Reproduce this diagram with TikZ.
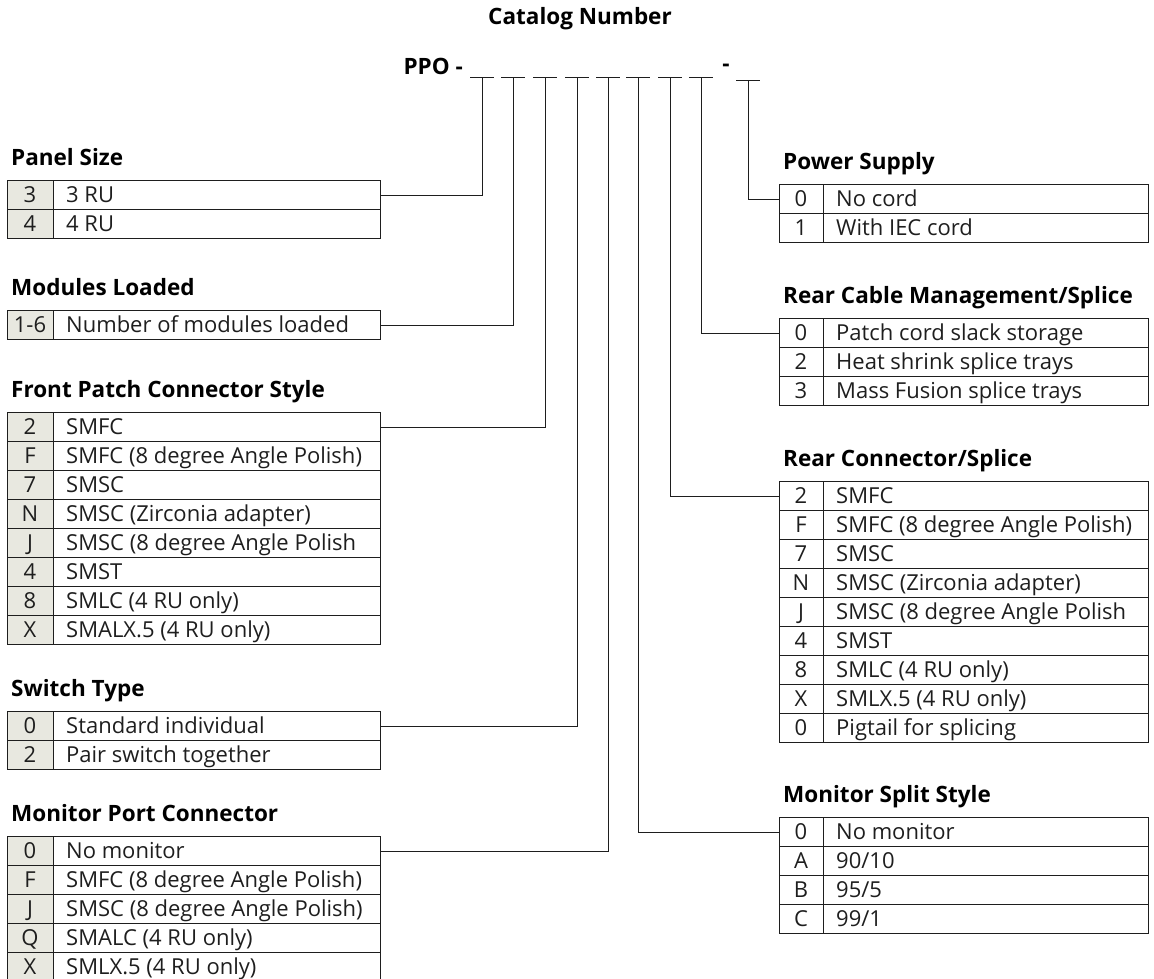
\documentclass[tikz,border=0pt]{standalone}
\usepackage{fontspec}
\setmainfont{Open Sans}
\definecolor{numgray}{RGB}{232,232,224}
\definecolor{ink}{RGB}{30,30,30}
\tikzset{
  tabtitle/.style={font=\fontsize{22.5}{26}\selectfont\bfseries,text=black,inner sep=0pt},
  rowbox/.style={draw=ink,line width=1pt,minimum height=29pt,inner sep=0pt,anchor=north west},
  codetxt/.style={font=\fontsize{22}{26}\selectfont,text=ink,inner sep=0pt,anchor=base},
  desctxt/.style={font=\fontsize{22}{26}\selectfont,text=ink,inner sep=0pt,anchor=base west},
  numshade/.style={fill=numgray},
  noshade/.style={},
  tickbar/.style={draw=ink,line width=1pt},
  link/.style={draw=ink,line width=0.9pt}
}
% #1 name, #2 left x, #3 top y, #4 width, #5 code column, #6 shade, #7 title, #8 rows
\newcommand{\codetab}[8]{%
  \node[tabtitle,anchor=base west] (#1-t) at (#2+4,#3-15) {#7};
  \foreach \c/\d [count=\i] in {#8}{
    \path[#6] (#2,#3+29*\i-29) rectangle ++(#5,29);
    \node[rowbox,minimum width=#4pt] (#1-\i) at (#2,#3+29*\i-29) {};
    \node[codetxt] at (#2+#5/2,#3+29*\i-7) {\c};
    \node[desctxt] at (#2+#5+13,#3+29*\i-7) {\d};
    \draw[ink,line width=1pt] ([xshift=#5pt]#1-\i.north west) -- ([xshift=#5pt]#1-\i.south west);
  }
}
\begin{document}
\begin{tikzpicture}[x=1pt,y=-1pt,line join=miter]
  \useasboundingbox (0,0) rectangle (1154,978);
  \node[tabtitle] (cat) at (580,19) {Catalog Number};
  \node[tabtitle,anchor=east] (ppo) at (463,66) {PPO -};
  \node[tabtitle] (dash) at (726,68) {-};
  % tick bars of the catalog number
  \foreach \n/\tx in {1/482,2/513,3/545,4/577,5/608,6/638,7/670,8/701}{
    \coordinate (t\n) at (\tx,77);
    \draw[tickbar] (t\n) ++(-12,0) -- ++(24,0);
  }
  \coordinate (t9) at (748,80);
  \draw[tickbar] (t9) ++(-12,0) -- ++(24,0);

  % left column
  \codetab{pn}{7}{180}{373}{46}{numshade}{Panel Size}{3/3 RU,4/4 RU}
  \codetab{ml}{7}{310}{373}{46}{numshade}{Modules Loaded}{1-6/Number of modules loaded}
  \codetab{fp}{7}{412}{373}{46}{numshade}{Front Patch Connector Style}{2/SMFC,F/SMFC (8 degree Angle Polish),7/SMSC,N/SMSC (Zirconia adapter),J/SMSC (8 degree Angle Polish,4/SMST,8/SMLC (4 RU only),X/SMALX.5 (4 RU only)}
  \codetab{sw}{7}{711}{373}{46}{numshade}{Switch Type}{0/Standard individual,2/Pair switch together}
  \codetab{mp}{7}{836}{373}{46}{numshade}{Monitor Port Connector}{0/No monitor,F/SMFC (8 degree Angle Polish),J/SMSC (8 degree Angle Polish),Q/SMALC (4 RU only),X/SMLX.5 (4 RU only)}

  % right column
  \codetab{ps}{779}{184}{369}{44}{noshade}{Power Supply}{0/No cord,1/With IEC cord}
  \codetab{rc}{779}{318}{369}{44}{noshade}{Rear Cable Management/Splice}{0/Patch cord slack storage,2/Heat shrink splice trays,3/Mass Fusion splice trays}
  \codetab{rs}{779}{481}{369}{44}{noshade}{Rear Connector/Splice}{2/SMFC,F/SMFC (8 degree Angle Polish),7/SMSC,N/SMSC (Zirconia adapter),J/SMSC (8 degree Angle Polish,4/SMST,8/SMLC (4 RU only),X/SMLX.5 (4 RU only),0/Pigtail for splicing}
  \codetab{ms}{779}{817}{369}{44}{noshade}{Monitor Split Style}{0/No monitor,A/{90/10},B/{95/5},C/{99/1}}

  % connectors
  \draw[link] (pn-1.east) -| (t1);
  \draw[link] (ml-1.east) -| (t2);
  \draw[link] (fp-1.east) -| (t3);
  \draw[link] (sw-1.east) -| (t4);
  \draw[link] (mp-1.east) -| (t5);
  \draw[link] (ms-1.west) -| (t6);
  \draw[link] (rs-1.west) -| (t7);
  \draw[link] (rc-1.west) -| (t8);
  \draw[link] (ps-1.west) -| (t9);
\end{tikzpicture}
\end{document}
